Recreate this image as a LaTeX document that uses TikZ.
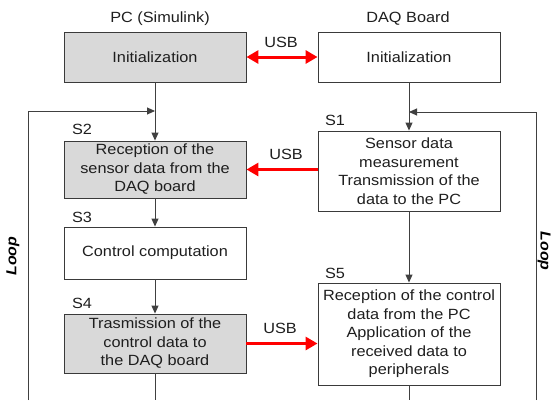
\documentclass[tikz,border=0pt]{standalone}
\usepackage{fontspec}
\setmainfont{Liberation Sans}[FakeStretch=1.1]
\usetikzlibrary{arrows.meta}
\definecolor{boxc}{HTML}{3A3A3A}
\definecolor{linec}{HTML}{404040}
\definecolor{gfill}{HTML}{D9D9D9}
\definecolor{txt}{HTML}{1E1E1E}
\begin{document}
\begin{tikzpicture}[x=1pt,y=-1pt,
  box/.style={draw=boxc, line width=0.9pt, minimum width=182pt, align=center, inner sep=0pt, font=\fontsize{14.8}{18.5}\selectfont, text=txt},
  shaded/.style={box, fill=gfill},
  lbl/.style={font=\fontsize{14.8}{18.5}\selectfont, text=txt, inner sep=0pt},
  looplbl/.style={font=\fontsize{14.5}{18.5}\selectfont\bfseries\itshape, text=black, inner sep=0pt},
  flow/.style={draw=linec, line width=0.9pt, -{Triangle[length=8pt,width=7pt]}},
  plain/.style={draw=linec, line width=0.9pt},
  usb/.style={draw=red, line width=3pt, -{Triangle[length=12pt,width=13pt]}},
  usbboth/.style={draw=red, line width=3pt, {Triangle[length=12pt,width=13pt]}-{Triangle[length=12pt,width=13pt]}}]
\useasboundingbox (0,0) rectangle (552,400);

% titles
\node[lbl] (tpc) at (160,19) {PC (Simulink)};
\node[lbl] (tdaq) at (408,19) {DAQ Board};

% boxes
\node[shaded, minimum height=50pt] (pcinit) at (155,57) {Initialization};
\node[box, minimum height=50pt] (daqinit) at (409,57) {Initialization};
\node[shaded, minimum height=57pt] (s2) at (155,169.5) {Reception of the\\sensor data from the\\DAQ board};
\node[box, minimum height=80pt] (s1) at (409,171) {Sensor data\\measurement\\Transmission of the\\data to the PC};
\node[box, minimum height=52pt] (s3) at (155,253) {Control computation};
\node[shaded, minimum height=59pt] (s4) at (155,343.5) {Trasmission of the\\control data to\\the DAQ board};
\node[box, minimum height=102pt] (s5) at (409,334) {Reception of the control\\data from the PC\\Application of the\\received data to\\peripherals};

% step labels
\node[lbl] (ls2) at (82,129.5) {S2};
\node[lbl] (ls1) at (335,120) {S1};
\node[lbl] (ls3) at (82,217) {S3};
\node[lbl] (ls4) at (82,303) {S4};
\node[lbl] (ls5) at (335,273) {S5};

% USB labels
\node[lbl] (u1) at (281,42) {USB};
\node[lbl] (u2) at (286,154.5) {USB};
\node[lbl] (u3) at (280,328) {USB};

% loop labels
\node[looplbl, rotate=90] (loopl) at (13,256) {Loop};
\node[looplbl, rotate=-90] (loopr) at (544,251) {Loop};

% coordinates
\coordinate (lb) at (28,400);
\coordinate (lt) at (28,111);
\coordinate (lj) at (155,111);
\coordinate (rb) at (536,400);
\coordinate (rt) at (536,112);
\coordinate (rj) at (409,112);
\coordinate (pcend) at (155,400);
\coordinate (daqend) at (409,400);

% flow connectors
\draw[flow] (pcinit) -- (s2);
\draw[flow] (daqinit) -- (s1);
\draw[flow] (s2) -- (s3);
\draw[flow] (s3) -- (s4);
\draw[flow] (s1) -- (s5);
\draw[plain] (s4.south) -- (pcend);
\draw[plain] (s5.south) -- (daqend);
\draw[flow] (lb) -- (lt) -- (lj);
\draw[flow] (rb) -- (rt) -- (rj);

% USB arrows
\draw[usbboth] (pcinit) -- (daqinit);
\draw[usb] (s1.west |- s2.east) -- (s2.east);
\draw[usb] (s4.east) -- (s4.east -| s5.west);
\end{tikzpicture}
\end{document}
